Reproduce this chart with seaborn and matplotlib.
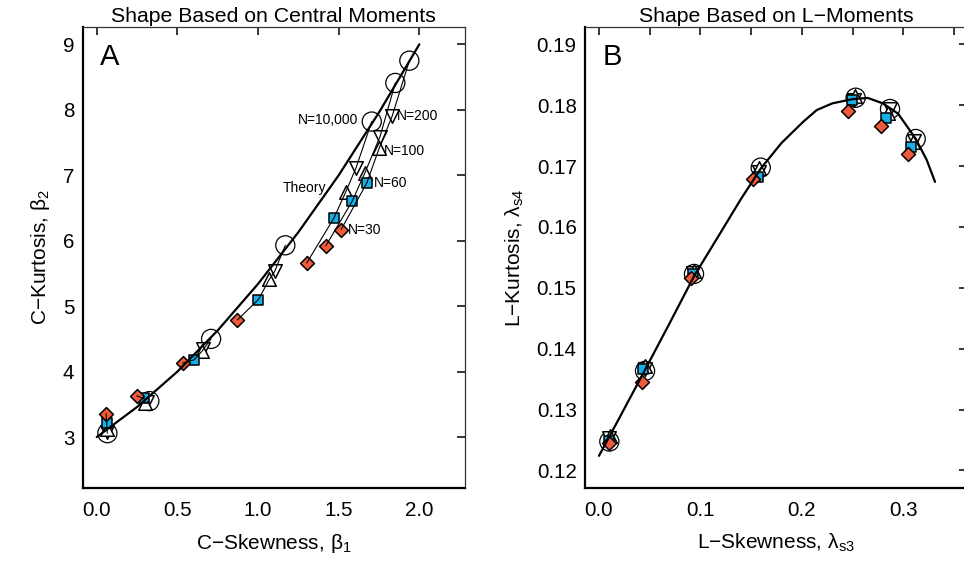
import matplotlib
matplotlib.use("Agg")
import matplotlib.pyplot as plt
import seaborn as sns
import pandas as pd
import numpy as np

# ---------------- data ----------------
# Panel A: central moments
A_theory_x = [0.0, 0.25, 0.5, 0.75, 1.0, 1.25, 1.5, 1.75, 2.0]
A_theory_y = [3.0, 3.46, 4.00, 4.63, 5.34, 6.13, 7.00, 7.96, 9.00]

A_n10000_x = [0.066, 0.326, 0.709, 1.169, 1.705, 1.851, 1.938]
A_n10000_y = [3.06, 3.55, 4.50, 5.93, 7.82, 8.41, 8.75]
A_n200_x = [0.065, 0.310, 0.661, 1.103, 1.607, 1.756, 1.831]
A_n200_y = [3.08, 3.53, 4.34, 5.53, 7.11, 7.59, 7.90]
A_n100_x = [0.063, 0.300, 0.652, 1.070, 1.543, 1.663, 1.752]
A_n100_y = [3.12, 3.52, 4.31, 5.41, 6.74, 7.04, 7.42]
A_n60_x = [0.062, 0.293, 0.603, 1.002, 1.469, 1.585, 1.674]
A_n60_y = [3.22, 3.59, 4.18, 5.10, 6.34, 6.61, 6.88]
A_n30_x = [0.058, 0.248, 0.533, 0.872, 1.302, 1.420, 1.515]
A_n30_y = [3.36, 3.63, 4.13, 4.79, 5.66, 5.92, 6.17]

# Panel B: L-moments
B_theory_x = [0.0, 0.02, 0.045, 0.07, 0.094, 0.12, 0.14, 0.16, 0.18, 0.2015, 0.2147,
              0.23, 0.25, 0.265, 0.28, 0.295, 0.3123, 0.3232, 0.3314]
B_theory_y = [0.1224, 0.1286, 0.1364, 0.1443, 0.1520, 0.1591, 0.1646, 0.1697, 0.1738,
              0.1773, 0.1792, 0.1803, 0.1810, 0.1812, 0.1803, 0.1786, 0.1745, 0.1710, 0.1674]

B_n10000_x = [0.0102, 0.0454, 0.0937, 0.1595, 0.2531, 0.2870, 0.3123]
B_n10000_y = [0.12475, 0.13636, 0.15228, 0.16974, 0.18123, 0.17938, 0.17445]
B_n200_x = [0.0100, 0.0450, 0.0930, 0.1580, 0.2510, 0.2870, 0.3110]
B_n200_y = [0.1253, 0.1367, 0.1525, 0.1690, 0.1808, 0.1793, 0.1741]
B_n100_x = [0.0105, 0.0455, 0.0940, 0.1580, 0.2520, 0.2850, 0.3100]
B_n100_y = [0.1257, 0.1372, 0.1527, 0.1697, 0.1815, 0.1788, 0.1740]
B_n60_x = [0.0095, 0.0437, 0.0925, 0.1565, 0.2492, 0.2830, 0.3077]
B_n60_y = [0.1249, 0.13673, 0.1523, 0.16826, 0.18085, 0.17785, 0.17319]
B_n30_x = [0.0102, 0.0427, 0.0907, 0.1516, 0.2452, 0.2781, 0.3044]
B_n30_y = [0.12448, 0.1345, 0.15158, 0.16788, 0.17905, 0.17658, 0.17194]

series_names = ["N=10,000", "N=200", "N=100", "N=60", "N=30"]
A_xtick_vals = [0.0, 0.5, 1.0, 1.5, 2.0]
A_ytick_vals = [3, 4, 5, 6, 7, 8, 9]
B_xtick_vals = [0.0, 0.1, 0.2, 0.3]
B_xminor_vals = [0.05, 0.15, 0.25, 0.35]
B_ytick_vals = [0.12, 0.13, 0.14, 0.15, 0.16, 0.17, 0.18, 0.19]

# ---------------- style ----------------
sns.set_style("white")
plt.rcParams["font.family"] = ["Liberation Sans", "DejaVu Sans"]
plt.rcParams["mathtext.fontset"] = "custom"
plt.rcParams["mathtext.rm"] = "Liberation Sans"
plt.rcParams["mathtext.it"] = "Liberation Sans:italic"
plt.rcParams["mathtext.bf"] = "Liberation Sans:bold"
for key in ("text.color", "axes.labelcolor", "xtick.color", "ytick.color"):
    plt.rcParams[key] = "black"

RED = "#EF5B3B"
BLUE = "#16AFE7"
styles = {
    "N=10,000": dict(marker="o", s=190, facecolor="none", zorder=2),
    "N=200": dict(marker="v", s=95, facecolor="white", zorder=3),
    "N=100": dict(marker="^", s=95, facecolor="white", zorder=4),
    "N=60": dict(marker="s", s=60, facecolor=BLUE, zorder=5),
    "N=30": dict(marker="D", s=50, facecolor=RED, zorder=6),
}


def build_long(xs, ys):
    rows = []
    for name, x, y in zip(series_names, xs, ys):
        for i, (xv, yv) in enumerate(zip(x, y)):
            rows.append(dict(series=name, dist=i, x=xv, y=yv))
    return pd.DataFrame(rows)


dfA = build_long([A_n10000_x, A_n200_x, A_n100_x, A_n60_x, A_n30_x],
                 [A_n10000_y, A_n200_y, A_n100_y, A_n60_y, A_n30_y])
dfB = build_long([B_n10000_x, B_n200_x, B_n100_x, B_n60_x, B_n30_x],
                 [B_n10000_y, B_n200_y, B_n100_y, B_n60_y, B_n30_y])
theoA = pd.DataFrame(dict(x=A_theory_x, y=A_theory_y))
theoB = pd.DataFrame(dict(x=B_theory_x, y=B_theory_y))

fig = plt.figure(figsize=(9.64, 5.61), dpi=100)
W, H = 964.0, 561.0
top_px, bot_px = 27.3, 487.5
axA = fig.add_axes([82.7 / W, (H - bot_px) / H, (465 - 82.7) / W, (bot_px - top_px) / H])
axB = fig.add_axes([585 / W, (H - bot_px) / H, (967 - 585) / W, (bot_px - top_px) / H])


def draw_points(ax, df):
    for name in series_names:
        st = styles[name]
        sub = df[df.series == name]
        sns.scatterplot(data=sub, x="x", y="y", ax=ax, marker=st["marker"], s=st["s"],
                        color=st["facecolor"], edgecolor="black", linewidth=1.1,
                        zorder=st["zorder"], legend=False)


draw_points(axA, dfA)
# chains linking the same distribution across sample sizes
sns.lineplot(data=dfA, x="x", y="y", units="dist", estimator=None, sort=False,
             color="black", linewidth=0.8, ax=axA, zorder=7, legend=False)
sns.lineplot(data=theoA, x="x", y="y", color="black", linewidth=1.6, ax=axA,
             zorder=8, sort=False)

draw_points(axB, dfB)
sns.lineplot(data=theoB, x="x", y="y", color="black", linewidth=1.6, ax=axB,
             zorder=8, sort=False)

# make circles hollow
for ax in (axA, axB):
    coll = ax.collections[0]
    coll.set_facecolor("none")
    coll.set_edgecolor("black")
    coll.set_linewidth(0.9)

# annotations in panel A
tfs = 10
axA.text(1.62, 7.84, "N=10,000", ha="right", va="center", fontsize=tfs, zorder=10)
axA.text(1.86, 7.90, "N=200", ha="left", va="center", fontsize=tfs, zorder=10)
axA.text(1.781, 7.365, "N=100", ha="left", va="center", fontsize=tfs, zorder=10)
axA.text(1.715, 6.874, "N=60", ha="left", va="center", fontsize=tfs, zorder=10)
axA.text(1.554, 6.163, "N=30", ha="left", va="center", fontsize=tfs, zorder=10)
axA.text(1.153, 6.81, "Theory", ha="left", va="center", fontsize=tfs, zorder=1)

# panel letters
axA.text(0.045, 0.965, "A", transform=axA.transAxes, ha="left", va="top", fontsize=21)
axB.text(0.045, 0.965, "B", transform=axB.transAxes, ha="left", va="top", fontsize=21)

# axes ranges / ticks
axA.set_xlim(-0.087, 2.283)
axA.set_ylim(2.23, 9.26)
axA.set_xticks(A_xtick_vals)
axA.set_xticklabels([f"{v:.1f}" for v in A_xtick_vals])
axA.set_yticks(A_ytick_vals)
axA.set_yticklabels([str(v) for v in A_ytick_vals])

axB.set_xlim(-0.0138, 0.3629)
axB.set_ylim(0.1172, 0.1928)
axB.set_xticks(B_xtick_vals)
axB.set_xticklabels([f"{v:.1f}" for v in B_xtick_vals])
axB.set_xticks(B_xminor_vals, minor=True)
axB.set_yticks(B_ytick_vals)
axB.set_yticklabels([f"{v:.2f}" for v in B_ytick_vals])

axA.set_title("Shape Based on Central Moments", fontsize=15.3, pad=3.5)
axB.set_title("Shape Based on L\u2212Moments", fontsize=15.3, pad=3.5)

axA.set_xlabel("C\u2212Skewness, \u03b2$_1$", fontsize=15, labelpad=9)
axA.set_ylabel("C\u2212Kurtosis, \u03b2$_2$", fontsize=15, labelpad=8)
axB.set_xlabel("L\u2212Skewness, \u03bb$_\\mathrm{s3}$", fontsize=15, labelpad=9)
axB.set_ylabel("L\u2212Kurtosis, \u03bb$_\\mathrm{s4}$", fontsize=15, labelpad=8)

for ax in (axA, axB):
    for side in ("left", "bottom"):
        ax.spines[side].set_linewidth(1.6)
        ax.spines[side].set_color("black")
    for side in ("top", "right"):
        ax.spines[side].set_linewidth(0.9)
        ax.spines[side].set_color("#333333")
    ax.tick_params(axis="both", which="both", direction="in", length=5.5, width=1.1,
                   top=True, right=True, labelsize=14.8, color="black")
    ax.tick_params(axis="x", which="both", pad=9.5)
    ax.tick_params(axis="y", which="both", pad=6)
    ax.grid(False)

fig.savefig("out.png", dpi=100)
